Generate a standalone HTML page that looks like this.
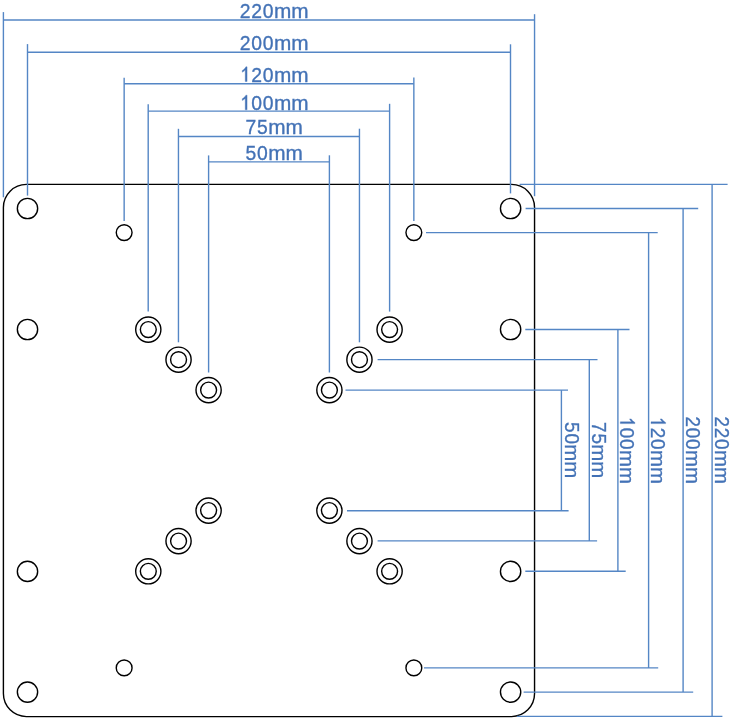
<!DOCTYPE html>
<html><head><meta charset="utf-8"><title>VESA adapter plate dimensions</title><style>
html,body{margin:0;padding:0;background:#fff;}
svg{display:block;will-change:transform;}
text{font-family:"Liberation Sans",sans-serif;font-size:20.8px;fill:#4372b6;stroke:#4372b6;stroke-width:0.35px;}
.g1{fill:#4372b6;stroke:#4372b6;stroke-width:34.46px;}
</style></head><body>
<svg width="731" height="718" viewBox="0 0 731 718">
<rect x="3.4" y="184.4" width="531.15" height="532.20" rx="23.0" ry="23.0" fill="none" stroke="#000000" stroke-width="1.4"/>
<line x1="3.4" y1="12.1" x2="3.4" y2="197.3" stroke="#5486c5" stroke-width="1.4"/>
<line x1="534.55" y1="14.2" x2="534.55" y2="196.2" stroke="#5486c5" stroke-width="1.4"/>
<line x1="3.4" y1="20.0" x2="534.55" y2="20.0" stroke="#5486c5" stroke-width="1.4"/>
<g transform="translate(274,18.0)"><text x="0" y="0" text-anchor="middle" transform="translate(-28.89,0) scale(0.93,0.98)">2</text><text x="0" y="0" text-anchor="middle" transform="translate(-17.33,0) scale(0.93,0.98)">2</text><text x="0" y="0" text-anchor="middle" transform="translate(-5.76,0) scale(0.93,0.98)">0</text><text x="0" y="0" transform="translate(0.03,0) scale(1,0.94)">mm</text></g>
<line x1="27.5" y1="44.1" x2="27.5" y2="195.6" stroke="#5486c5" stroke-width="1.4"/>
<line x1="510.5" y1="44.3" x2="510.5" y2="193.4" stroke="#5486c5" stroke-width="1.4"/>
<line x1="27.5" y1="52.2" x2="510.5" y2="52.2" stroke="#5486c5" stroke-width="1.4"/>
<g transform="translate(274,49.9)"><text x="0" y="0" text-anchor="middle" transform="translate(-28.89,0) scale(0.93,0.98)">2</text><text x="0" y="0" text-anchor="middle" transform="translate(-17.33,0) scale(0.93,0.98)">0</text><text x="0" y="0" text-anchor="middle" transform="translate(-5.76,0) scale(0.93,0.98)">0</text><text x="0" y="0" transform="translate(0.03,0) scale(1,0.94)">mm</text></g>
<line x1="124.15" y1="77.8" x2="124.15" y2="221.0" stroke="#5486c5" stroke-width="1.4"/>
<line x1="413.85" y1="77.5" x2="413.85" y2="221.0" stroke="#5486c5" stroke-width="1.4"/>
<line x1="124.15" y1="83.7" x2="413.85" y2="83.7" stroke="#5486c5" stroke-width="1.4"/>
<g transform="translate(274,81.5)"><path class="g1" d="M763 0L583 0L583 1147Q528 1085 440 1023Q352 961 290 930L290 1104Q410 1175 508 1276Q606 1377 646 1472L763 1472Z" transform="translate(-34.68,0) scale(0.01016,-0.00995)"/><text x="0" y="0" text-anchor="middle" transform="translate(-17.33,0) scale(0.93,0.98)">2</text><text x="0" y="0" text-anchor="middle" transform="translate(-5.76,0) scale(0.93,0.98)">0</text><text x="0" y="0" transform="translate(0.03,0) scale(1,0.94)">mm</text></g>
<line x1="148.2" y1="104.2" x2="148.2" y2="311.6" stroke="#5486c5" stroke-width="1.4"/>
<line x1="389.6" y1="103.8" x2="389.6" y2="311.6" stroke="#5486c5" stroke-width="1.4"/>
<line x1="148.2" y1="111.1" x2="389.6" y2="111.1" stroke="#5486c5" stroke-width="1.4"/>
<g transform="translate(274,109.8)"><path class="g1" d="M763 0L583 0L583 1147Q528 1085 440 1023Q352 961 290 930L290 1104Q410 1175 508 1276Q606 1377 646 1472L763 1472Z" transform="translate(-34.68,0) scale(0.01016,-0.00995)"/><text x="0" y="0" text-anchor="middle" transform="translate(-17.33,0) scale(0.93,0.98)">0</text><text x="0" y="0" text-anchor="middle" transform="translate(-5.76,0) scale(0.93,0.98)">0</text><text x="0" y="0" transform="translate(0.03,0) scale(1,0.94)">mm</text></g>
<line x1="178.45" y1="128.8" x2="178.45" y2="342.3" stroke="#5486c5" stroke-width="1.4"/>
<line x1="359.45" y1="128.7" x2="359.45" y2="342.3" stroke="#5486c5" stroke-width="1.4"/>
<line x1="178.45" y1="136.5" x2="359.45" y2="136.5" stroke="#5486c5" stroke-width="1.4"/>
<g transform="translate(274,134.4)"><text x="0" y="0" text-anchor="middle" transform="translate(-23.11,0) scale(0.93,0.98)">7</text><text x="0" y="0" text-anchor="middle" transform="translate(-11.54,0) scale(0.93,0.98)">5</text><text x="0" y="0" transform="translate(-5.76,0) scale(1,0.94)">mm</text></g>
<line x1="208.6" y1="155.4" x2="208.6" y2="372.5" stroke="#5486c5" stroke-width="1.4"/>
<line x1="329.4" y1="155.3" x2="329.4" y2="372.5" stroke="#5486c5" stroke-width="1.4"/>
<line x1="208.6" y1="161.9" x2="329.4" y2="161.9" stroke="#5486c5" stroke-width="1.4"/>
<g transform="translate(274,159.7)"><text x="0" y="0" text-anchor="middle" transform="translate(-23.11,0) scale(0.93,0.98)">5</text><text x="0" y="0" text-anchor="middle" transform="translate(-11.54,0) scale(0.93,0.98)">0</text><text x="0" y="0" transform="translate(-5.76,0) scale(1,0.94)">mm</text></g>
<line x1="345.5" y1="390.1" x2="568.0" y2="390.1" stroke="#5486c5" stroke-width="1.4"/>
<line x1="347.0" y1="510.7" x2="568.6" y2="510.7" stroke="#5486c5" stroke-width="1.4"/>
<line x1="561.4" y1="390.1" x2="561.4" y2="510.7" stroke="#5486c5" stroke-width="1.4"/>
<g transform="translate(564.8,450.0) rotate(90) scale(0.98,1)"><text x="0" y="0" text-anchor="middle" transform="translate(-23.11,0) scale(0.93,0.98)">5</text><text x="0" y="0" text-anchor="middle" transform="translate(-11.54,0) scale(0.93,0.98)">0</text><text x="0" y="0" transform="translate(-5.76,0) scale(1,0.94)">mm</text></g>
<line x1="377.6" y1="359.6" x2="597.5" y2="359.6" stroke="#5486c5" stroke-width="1.4"/>
<line x1="377.6" y1="540.9" x2="597.1" y2="540.9" stroke="#5486c5" stroke-width="1.4"/>
<line x1="589.3" y1="359.6" x2="589.3" y2="540.9" stroke="#5486c5" stroke-width="1.4"/>
<g transform="translate(591.8,450.0) rotate(90) scale(0.98,1)"><text x="0" y="0" text-anchor="middle" transform="translate(-23.11,0) scale(0.93,0.98)">7</text><text x="0" y="0" text-anchor="middle" transform="translate(-11.54,0) scale(0.93,0.98)">5</text><text x="0" y="0" transform="translate(-5.76,0) scale(1,0.94)">mm</text></g>
<line x1="525.3" y1="329.5" x2="629.5" y2="329.5" stroke="#5486c5" stroke-width="1.4"/>
<line x1="525.3" y1="571.2" x2="625.7" y2="571.2" stroke="#5486c5" stroke-width="1.4"/>
<line x1="617.9" y1="329.5" x2="617.9" y2="571.2" stroke="#5486c5" stroke-width="1.4"/>
<g transform="translate(620.3,450.0) rotate(90) scale(0.98,1)"><path class="g1" d="M763 0L583 0L583 1147Q528 1085 440 1023Q352 961 290 930L290 1104Q410 1175 508 1276Q606 1377 646 1472L763 1472Z" transform="translate(-34.68,0) scale(0.01016,-0.00995)"/><text x="0" y="0" text-anchor="middle" transform="translate(-17.33,0) scale(0.93,0.98)">0</text><text x="0" y="0" text-anchor="middle" transform="translate(-5.76,0) scale(0.93,0.98)">0</text><text x="0" y="0" transform="translate(0.03,0) scale(1,0.94)">mm</text></g>
<line x1="426.0" y1="232.6" x2="657.7" y2="232.6" stroke="#5486c5" stroke-width="1.4"/>
<line x1="424.0" y1="667.9" x2="658.2" y2="667.9" stroke="#5486c5" stroke-width="1.4"/>
<line x1="648.6" y1="232.6" x2="648.6" y2="667.9" stroke="#5486c5" stroke-width="1.4"/>
<g transform="translate(651.0,450.0) rotate(90) scale(0.98,1)"><path class="g1" d="M763 0L583 0L583 1147Q528 1085 440 1023Q352 961 290 930L290 1104Q410 1175 508 1276Q606 1377 646 1472L763 1472Z" transform="translate(-34.68,0) scale(0.01016,-0.00995)"/><text x="0" y="0" text-anchor="middle" transform="translate(-17.33,0) scale(0.93,0.98)">2</text><text x="0" y="0" text-anchor="middle" transform="translate(-5.76,0) scale(0.93,0.98)">0</text><text x="0" y="0" transform="translate(0.03,0) scale(1,0.94)">mm</text></g>
<line x1="525.6" y1="208.5" x2="698.2" y2="208.5" stroke="#5486c5" stroke-width="1.4"/>
<line x1="523.6" y1="692.1" x2="693.2" y2="692.1" stroke="#5486c5" stroke-width="1.4"/>
<line x1="683.1" y1="208.5" x2="683.1" y2="692.1" stroke="#5486c5" stroke-width="1.4"/>
<g transform="translate(686.3,450.0) rotate(90) scale(0.98,1)"><text x="0" y="0" text-anchor="middle" transform="translate(-28.89,0) scale(0.93,0.98)">2</text><text x="0" y="0" text-anchor="middle" transform="translate(-17.33,0) scale(0.93,0.98)">0</text><text x="0" y="0" text-anchor="middle" transform="translate(-5.76,0) scale(0.93,0.98)">0</text><text x="0" y="0" transform="translate(0.03,0) scale(1,0.94)">mm</text></g>
<line x1="519.6" y1="184.4" x2="727.6" y2="184.4" stroke="#5486c5" stroke-width="1.4"/>
<line x1="516.9" y1="716.4" x2="722.4" y2="716.4" stroke="#5486c5" stroke-width="1.4"/>
<line x1="712.1" y1="184.4" x2="712.1" y2="716.4" stroke="#5486c5" stroke-width="1.4"/>
<g transform="translate(715.3,450.0) rotate(90) scale(0.98,1)"><text x="0" y="0" text-anchor="middle" transform="translate(-28.89,0) scale(0.93,0.98)">2</text><text x="0" y="0" text-anchor="middle" transform="translate(-17.33,0) scale(0.93,0.98)">2</text><text x="0" y="0" text-anchor="middle" transform="translate(-5.76,0) scale(0.93,0.98)">0</text><text x="0" y="0" transform="translate(0.03,0) scale(1,0.94)">mm</text></g>
<circle cx="27.5" cy="208.5" r="10.15" fill="none" stroke="#000000" stroke-width="1.4"/>
<circle cx="27.5" cy="329.5" r="10.15" fill="none" stroke="#000000" stroke-width="1.4"/>
<circle cx="27.5" cy="571.4" r="10.15" fill="none" stroke="#000000" stroke-width="1.4"/>
<circle cx="27.5" cy="692.1" r="10.15" fill="none" stroke="#000000" stroke-width="1.4"/>
<circle cx="510.6" cy="208.5" r="10.15" fill="none" stroke="#000000" stroke-width="1.4"/>
<circle cx="510.6" cy="329.5" r="10.15" fill="none" stroke="#000000" stroke-width="1.4"/>
<circle cx="510.6" cy="571.4" r="10.15" fill="none" stroke="#000000" stroke-width="1.4"/>
<circle cx="510.6" cy="692.1" r="10.15" fill="none" stroke="#000000" stroke-width="1.4"/>
<circle cx="124.15" cy="232.6" r="7.9" fill="none" stroke="#000000" stroke-width="1.4"/>
<circle cx="124.15" cy="667.9" r="7.9" fill="none" stroke="#000000" stroke-width="1.4"/>
<circle cx="413.85" cy="232.6" r="7.9" fill="none" stroke="#000000" stroke-width="1.4"/>
<circle cx="413.85" cy="667.9" r="7.9" fill="none" stroke="#000000" stroke-width="1.4"/>
<circle cx="148.3" cy="329.6" r="12.6" fill="none" stroke="#000000" stroke-width="1.4"/>
<circle cx="148.3" cy="329.6" r="7.95" fill="none" stroke="#000000" stroke-width="1.4"/>
<circle cx="148.3" cy="571.3" r="12.6" fill="none" stroke="#000000" stroke-width="1.4"/>
<circle cx="148.3" cy="571.3" r="7.95" fill="none" stroke="#000000" stroke-width="1.4"/>
<circle cx="389.6" cy="329.6" r="12.6" fill="none" stroke="#000000" stroke-width="1.4"/>
<circle cx="389.6" cy="329.6" r="7.95" fill="none" stroke="#000000" stroke-width="1.4"/>
<circle cx="389.6" cy="571.3" r="12.6" fill="none" stroke="#000000" stroke-width="1.4"/>
<circle cx="389.6" cy="571.3" r="7.95" fill="none" stroke="#000000" stroke-width="1.4"/>
<circle cx="178.55" cy="359.7" r="12.6" fill="none" stroke="#000000" stroke-width="1.4"/>
<circle cx="178.55" cy="359.7" r="7.95" fill="none" stroke="#000000" stroke-width="1.4"/>
<circle cx="178.55" cy="541.1" r="12.6" fill="none" stroke="#000000" stroke-width="1.4"/>
<circle cx="178.55" cy="541.1" r="7.95" fill="none" stroke="#000000" stroke-width="1.4"/>
<circle cx="359.45" cy="359.7" r="12.6" fill="none" stroke="#000000" stroke-width="1.4"/>
<circle cx="359.45" cy="359.7" r="7.95" fill="none" stroke="#000000" stroke-width="1.4"/>
<circle cx="359.45" cy="541.1" r="12.6" fill="none" stroke="#000000" stroke-width="1.4"/>
<circle cx="359.45" cy="541.1" r="7.95" fill="none" stroke="#000000" stroke-width="1.4"/>
<circle cx="208.6" cy="390.1" r="12.6" fill="none" stroke="#000000" stroke-width="1.4"/>
<circle cx="208.6" cy="390.1" r="7.95" fill="none" stroke="#000000" stroke-width="1.4"/>
<circle cx="208.6" cy="510.6" r="12.6" fill="none" stroke="#000000" stroke-width="1.4"/>
<circle cx="208.6" cy="510.6" r="7.95" fill="none" stroke="#000000" stroke-width="1.4"/>
<circle cx="329.4" cy="390.1" r="12.6" fill="none" stroke="#000000" stroke-width="1.4"/>
<circle cx="329.4" cy="390.1" r="7.95" fill="none" stroke="#000000" stroke-width="1.4"/>
<circle cx="329.4" cy="510.6" r="12.6" fill="none" stroke="#000000" stroke-width="1.4"/>
<circle cx="329.4" cy="510.6" r="7.95" fill="none" stroke="#000000" stroke-width="1.4"/>
</svg>
</body></html>
